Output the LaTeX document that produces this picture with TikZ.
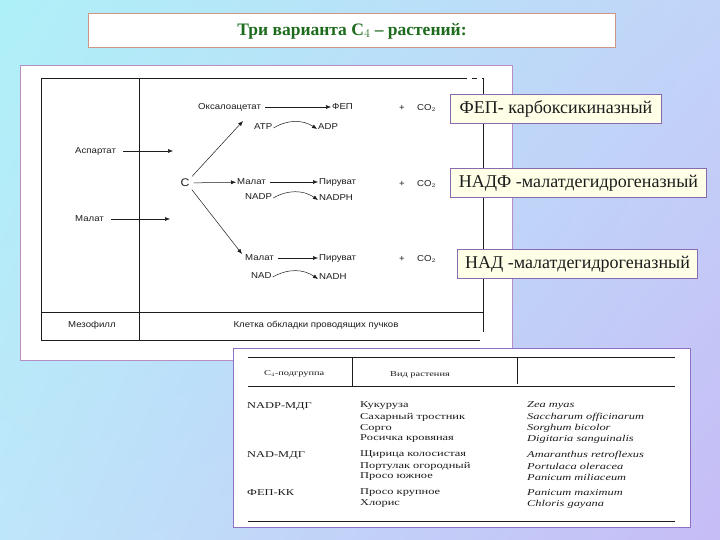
\documentclass[tikz,border=0pt]{standalone}
\usepackage{fontspec}
\setmainfont{Liberation Serif}
\newfontfamily\scanfont[FakeStretch=1.12]{Liberation Sans}
\newfontfamily\tabfont[FakeStretch=1.38]{Liberation Serif}
\usetikzlibrary{arrows.meta,shadings}
\definecolor{bgtl}{HTML}{AEF0F8}
\definecolor{bgtr}{HTML}{C2D4F8}
\definecolor{bgbl}{HTML}{BEE6FA}
\definecolor{bgbr}{HTML}{C6BCF6}
\definecolor{titlec}{HTML}{1E6B1E}
\definecolor{titlebd}{HTML}{D09484}
\definecolor{panelbd}{HTML}{B88CC4}
\definecolor{tabbd}{HTML}{9070C4}
\definecolor{tagbd}{HTML}{8A6AAE}
\definecolor{tagfill}{HTML}{FFFFE8}
\definecolor{ink}{HTML}{1C1C1C}
\tikzset{
  panel/.style={fill=white,line width=1pt},
  tag/.style={draw=tagbd,fill=tagfill,line width=0.9pt,inner sep=0pt,minimum height=29pt,
    font=\fontsize{18}{20}\selectfont,text=ink},
  sc/.style={font=\scanfont\fontsize{8.6}{10}\selectfont,text=ink,inner sep=1pt,anchor=west},
  tb/.style={font=\tabfont\fontsize{9}{10}\selectfont,text=ink,inner sep=0pt,anchor=west},
  frame/.style={ink,line width=0.6pt},
  rx/.style={ink,line width=0.5pt,-{Latex[length=5pt,width=4pt]}},
  cx/.style={rx,bend left=32},
}
\begin{document}
\begin{tikzpicture}[x=1pt,y=-1pt]
  \useasboundingbox (0,0) rectangle (720,540);
  \shade[upper left=bgtl,upper right=bgtr,lower left=bgbl,lower right=bgbr] (0,0) rectangle (720,540);
  % title
  \draw[titlebd,fill=white,line width=1pt] (88,14) rectangle (615,48);
  \node[font=\bfseries\fontsize{17.5}{19}\selectfont,text=titlec] (title) at (352,31) {Три варианта C$_4$ -- растений:};
  % scanned scheme
  \draw[panel,draw=panelbd] (20,66) rectangle (512,360);
  \draw[frame] (41,78) -- (462,78) (41,78) -- (41,340) -- (480,340) (139,78) -- (139,340)
    (41,312) -- (483,312) (483,78) -- (483,332);
  \draw[frame,dash pattern=on 5pt off 5pt] (462,78) -- (483,78);
  \node[sc] (asp) at (74,151) {Аспартат};
  \node[sc] (malm) at (74,219) {Малат};
  \node[sc,font=\scanfont\fontsize{11}{12}\selectfont,anchor=center] (cc) at (185,183) {C};
  \node[sc] (oaa) at (197,107) {Оксалоацетат};
  \node[sc] (pep) at (331,107) {ФЕП};
  \node[sc] (atp) at (253,127) {ATP};
  \node[sc] (adp) at (317,127) {ADP};
  \node[sc] (mal1) at (236,182) {Малат};
  \foreach \n/\y in {pyr1/182,pyr2/258} \node[sc] (\n) at (318,\y) {Пируват};
  \node[sc] (nadp) at (244,197) {NADP};
  \node[sc] (nadph) at (318,198) {NADPH};
  \node[sc] (mal2) at (244,258) {Малат};
  \node[sc] (nad) at (250,276) {NAD};
  \node[sc] (nadh) at (318,277) {NADH};
  \foreach \i/\y in {a/108,b/184,c/259} {
    \node[sc,anchor=center] (plus\i) at (402,\y) {+};
    \node[sc] (co\i) at (416,\y) {CO$_2$};
  }
  \node[sc] (mes) at (67,325) {Мезофилл};
  \node[sc,anchor=center] (sheath) at (316,325) {Клетка обкладки проводящих пучков};
  \coordinate (aspend) at (173,151);
  \coordinate (malend) at (170,219);
  \coordinate (upend) at (243,121);
  \coordinate (lowend) at (242,254);
  \draw[rx,shorten <=6pt] (asp) -- (aspend);
  \draw[rx,shorten <=6pt] (malm) -- (malend);
  \draw[rx,shorten <=2pt] (cc.north east) -- (upend);
  \draw[rx,shorten <=3pt] (cc) -- (mal1);
  \draw[rx,shorten <=2pt] (cc.south east) -- (lowend);
  \foreach \a/\b in {oaa/pep,mal1/pyr1,mal2/pyr2} \draw[rx,shorten <=3pt] (\a) -- (\b);
  \foreach \a/\b in {atp/adp,nadp/nadph,nad/nadh} \draw[cx] ([yshift=-1pt]\a.east) to ([yshift=-2pt]\b.west);
  % table
  \draw[panel,draw=tabbd] (233,348) rectangle (690,527);
  \draw[frame] (248,357) -- (675,357) (248,386) -- (675,386) (248,521) -- (675,521)
    (352,357) -- (352,386) (517,357) -- (517,384);
  \node[tb,font=\tabfont\fontsize{7.5}{9}\selectfont] (hgrp) at (264,374) {C$_4$-подгруппа};
  \node[tb,font=\tabfont\fontsize{7.5}{9}\selectfont] (hsp) at (390,375) {Вид растения};
  \foreach \y/\g/\r/\l in {406/NADP-МДГ/Кукуруза/Zea myas,
      417//Сахарный тростник/Saccharum officinarum,
      428//Сорго/Sorghum bicolor,
      439//Росичка кровяная/Digitaria sanguinalis,
      455/NAD-МДГ/Щирица колосистая/Amaranthus retroflexus,
      466//Портулак огородный/Portulaca oleracea,
      477//Просо южное/Panicum miliaceum,
      493/ФЕП-КК/Просо крупное/Panicum maximum,
      504//Хлорис/Chloris gayana} {
    \node[tb] (g\y) at (247,\y) {\g};
    \node[tb] (r\y) at (360,\y) {\r};
    \node[tb] (l\y) at (527,\y) {\itshape\l};
  }
  % enzyme labels
  \node[tag,minimum width=211pt,anchor=north west] (tpep) at (450,94) {ФЕП- карбоксикиназный};
  \node[tag,minimum width=256pt,anchor=north west] (tnadp) at (450,168) {НАДФ -малатдегидрогеназный};
  \node[tag,minimum width=240pt,anchor=north west] (tnad) at (457,249) {НАД -малатдегидрогеназный};
\end{tikzpicture}
\end{document}
